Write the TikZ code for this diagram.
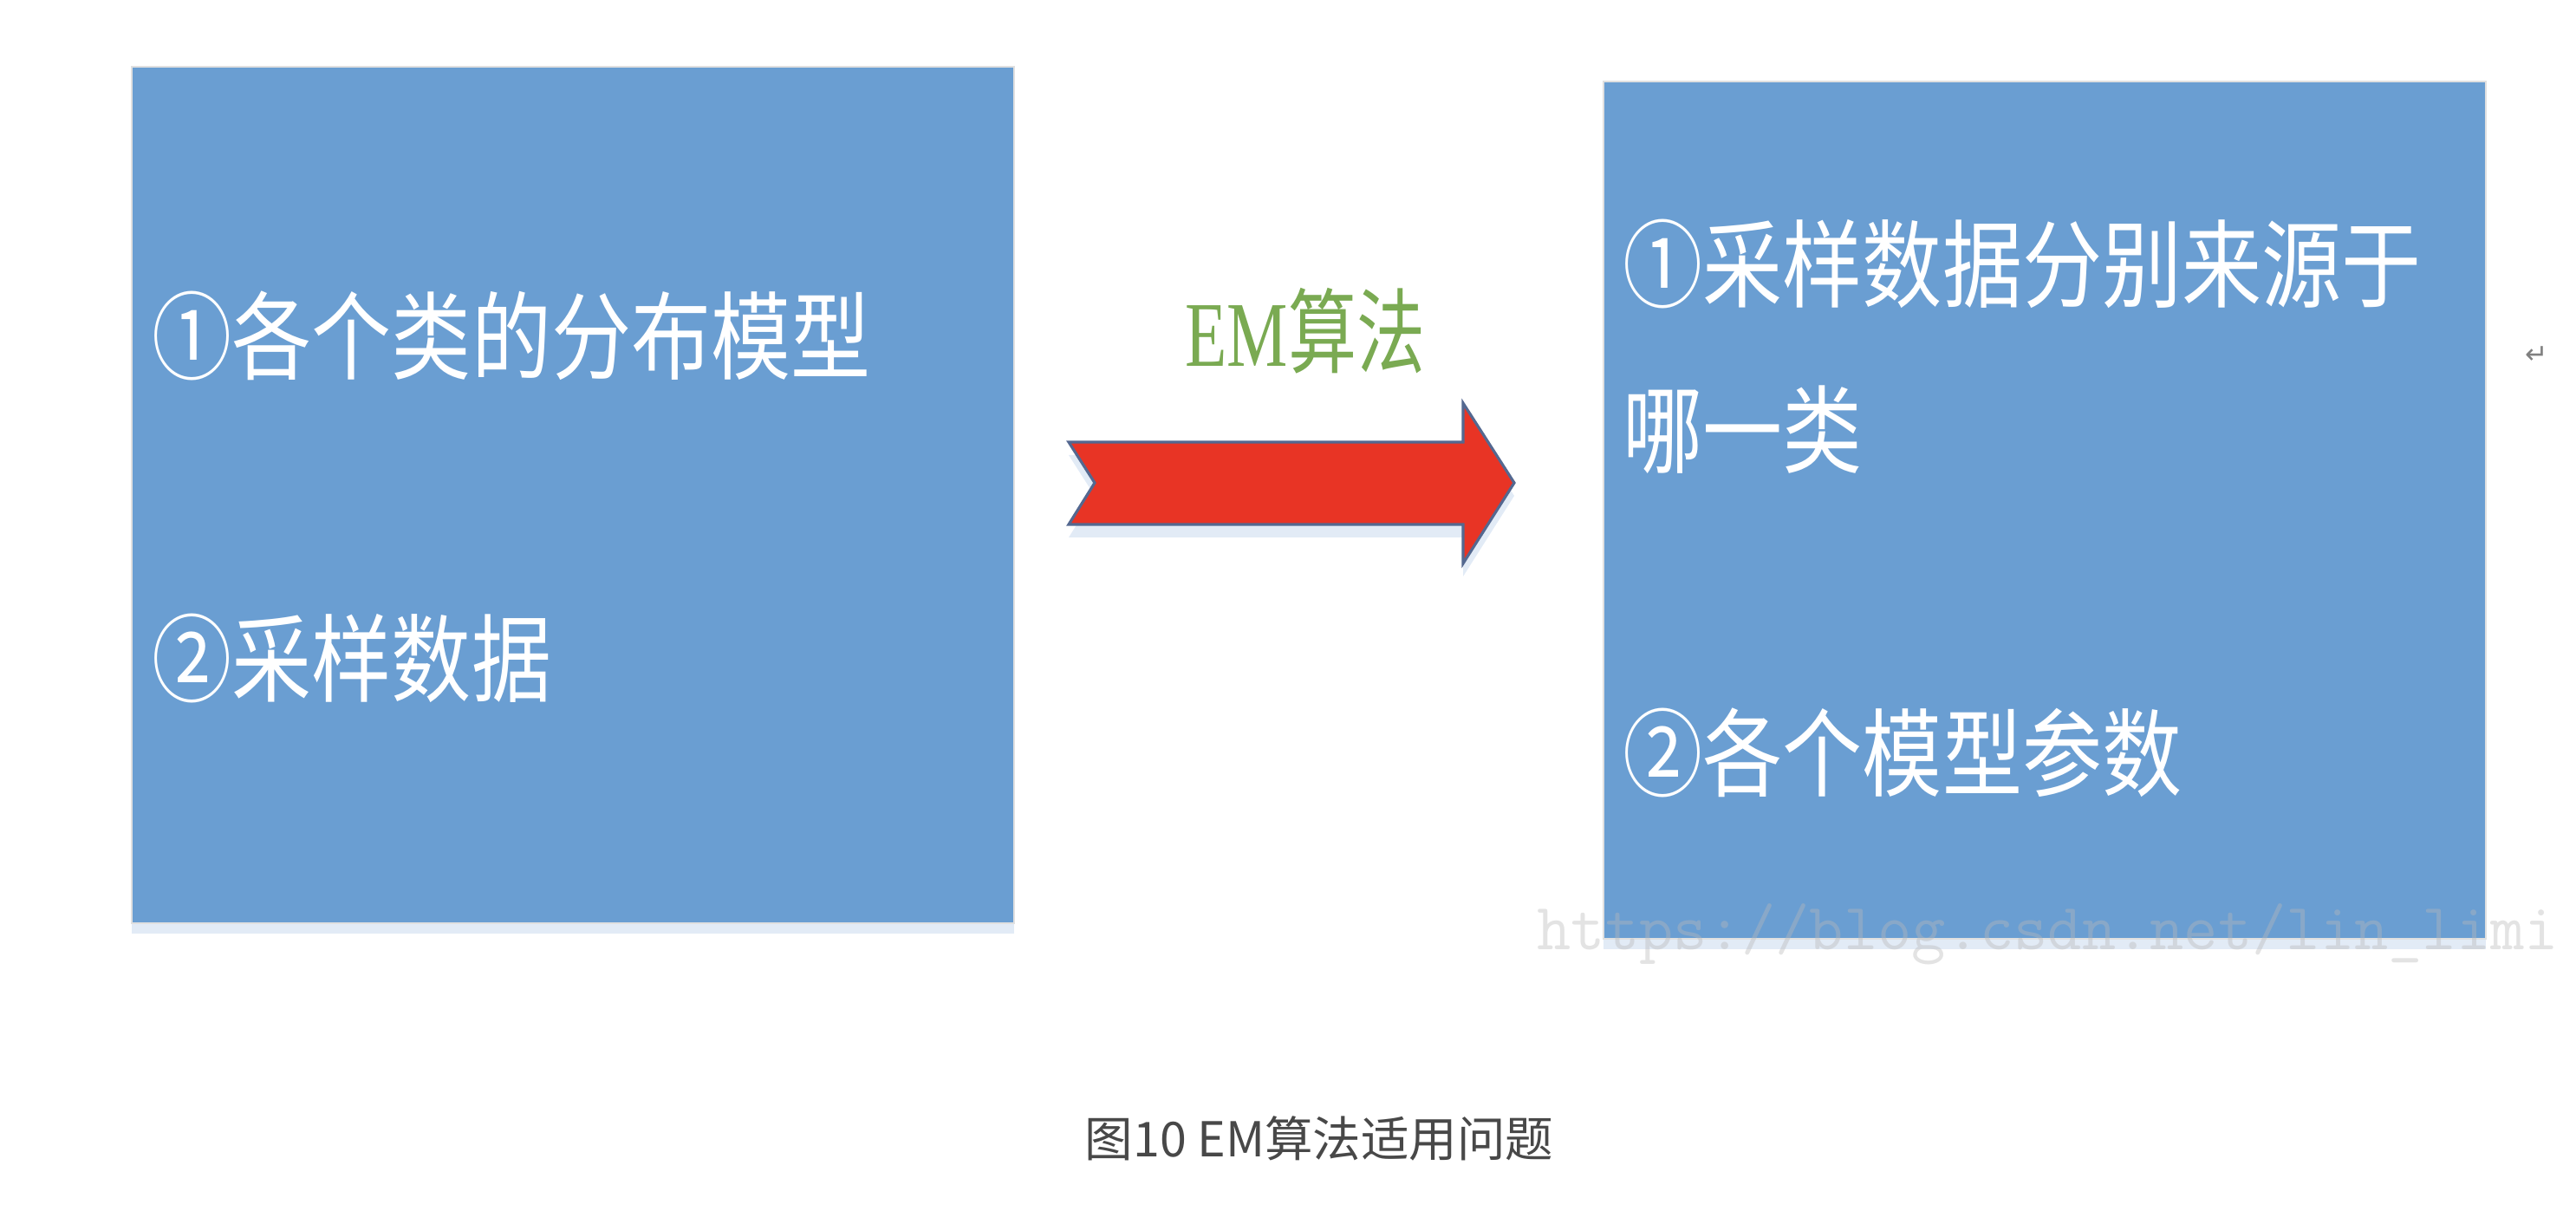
\documentclass[tikz,border=0pt]{standalone}
\usepackage{fontspec}
\setmainfont{Liberation Serif}
\newfontfamily\cjk{Noto Sans CJK SC}
\newfontfamily\symb{DejaVu Sans}
\usetikzlibrary{shadows}

\definecolor{boxblue}{RGB}{106,158,210}
\definecolor{arrowred}{RGB}{232,52,37}
\definecolor{arrowedge}{RGB}{84,104,144}
\definecolor{emgreen}{RGB}{122,170,82}
\definecolor{capgray}{RGB}{72,72,72}
\definecolor{shadeblue}{RGB}{214,226,242}
\newcommand{\tall}[2]{\scalebox{1}[#1]{#2}}

\begin{document}
\begin{tikzpicture}[
    box/.style={fill=boxblue, draw=black!12, line width=0.5pt, inner sep=0pt,
        drop shadow={shadow xshift=0pt, shadow yshift=-0.12cm, fill=shadeblue, opacity=0.7}},
    item/.style={anchor=west, inner sep=0pt, text=white, font=\cjk\fontsize{26.2}{30}\selectfont},
    bigarrow/.style={fill=arrowred, draw=arrowedge, line width=0.9pt, line join=miter,
        drop shadow={shadow xshift=0pt, shadow yshift=-0.15cm, fill=shadeblue, opacity=0.7}},
]
    \useasboundingbox (0,0) rectangle (29.72,13.96);
    \clip (0,0) rectangle (29.72,13.96);

    % the two boxes
    \node (given) [box, minimum width=10.18cm, minimum height=9.88cm] at (6.61,8.25) {};
    \node (sought) [box, minimum width=10.18cm, minimum height=9.89cm] at (23.59,8.075) {};

    \node (given1) [item] at (1.75,10.09) {\tall{1.2}{①各个类的分布模型}};
    \node (given2) [item] at (1.75,6.36) {\tall{1.2}{②采样数据}};
    \node (sought1) [item] at (18.72,10.91) {\tall{1.2}{①采样数据分别来源于}};
    \node (sought2) [item] at (18.72,9.00) {\tall{1.2}{哪一类}};
    \node (sought3) [item] at (18.72,5.28) {\tall{1.2}{②各个模型参数}};

    % block arrow
    \draw [bigarrow] (12.33,8.86) -- (16.88,8.86) -- (16.88,9.31) -- (17.47,8.39)
        -- (16.88,7.46) -- (16.88,7.91) -- (12.33,7.91) -- (12.63,8.39) -- cycle;
    \node (alg) [text=emgreen, font=\fontsize{22.5}{26}\selectfont] at (15.06,10.14)
        {\tall{1.35}{EM{\cjk 算法}}};

    % watermark, return mark and caption
    \node (mark) [anchor=base west, inner sep=0pt, text=gray!55, text opacity=0.4,
        font=\ttfamily\fontsize{21.7}{24}\selectfont] at (17.73,3.01) {https://blog.csdn.net/lin\_limi};
    \node (ret) [text=gray, font=\symb\fontsize{9}{10}\selectfont] at (29.27,9.86) {↵};
    \node (cap) [text=capgray, font=\cjk\fontsize{15.8}{18}\selectfont] at (15.22,0.83)
        {图10 EM算法适用问题};
\end{tikzpicture}
\end{document}
